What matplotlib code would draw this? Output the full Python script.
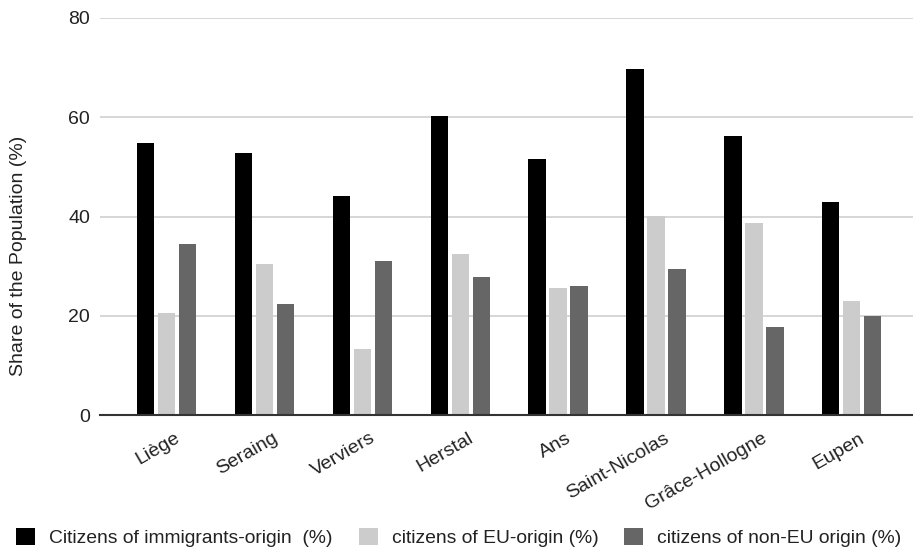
import numpy as np
import matplotlib
matplotlib.use("Agg")
import matplotlib.pyplot as plt
from matplotlib.transforms import ScaledTranslation

plt.rcParams['font.family'] = ['Liberation Sans', 'DejaVu Sans']

# shares of the population by origin, per municipality
cities = ["Liège", "Seraing", "Verviers", "Herstal", "Ans",
          "Saint-Nicolas", "Grâce-Hollogne", "Eupen"]
immigrant_origin = [54.9, 52.7, 44.2, 60.2, 51.6, 69.7, 56.3, 42.9]
eu_origin = [20.6, 30.5, 13.2, 32.4, 25.6, 40.1, 38.7, 22.9]
non_eu_origin = [34.4, 22.3, 31.1, 27.9, 26.0, 29.5, 17.7, 20.0]

series_names = ["Citizens of immigrants-origin  (%)",
                "citizens of EU-origin (%)",
                "citizens of non-EU origin (%)"]
colors = ["#000000", "#cccccc", "#666666"]
yticks = [0, 20, 40, 60, 80]

fig = plt.figure(figsize=(9.13, 5.49), dpi=100)
ax = fig.add_axes([100 / 913, 1 - 415 / 549, 813 / 913, 397 / 549])

x = np.arange(len(cities))
width = 0.179
step = 0.2146
bars = []
for i, (vals, name, c) in enumerate(zip([immigrant_origin, eu_origin, non_eu_origin],
                                        series_names, colors)):
    b = ax.bar(x + (i - 1) * step, vals, width, color=c, label=name, zorder=3)
    bars.append(b)

ax.set_xlim(-0.682, 7.626)
ax.set_ylim(0, 80)
ax.set_yticks(yticks)
ax.grid(axis='y', color='#cccccc', linewidth=1.1, zorder=0)
for side in ['top', 'right', 'left']:
    ax.spines[side].set_visible(False)
ax.spines['bottom'].set_color('#333333')
ax.spines['bottom'].set_linewidth(1.5)
ax.spines['bottom'].set_zorder(4)

ax.tick_params(axis='y', length=0, pad=7.2, labelsize=14, labelcolor='#222222')
ax.tick_params(axis='x', length=0, pad=18.7, labelsize=14, labelcolor='#222222')
ax.set_xticks(x, cities, rotation=30, ha='right', va='baseline',
              rotation_mode='anchor')
shift = ScaledTranslation(0.14, 0, fig.dpi_scale_trans)
for lbl in ax.get_xticklabels():
    lbl.set_transform(lbl.get_transform() + shift)

ax.set_ylabel("Share of the Population (%)", fontsize=14, color='#222222')
ax.yaxis.set_label_coords(-0.090, 0.40)

# legend row along the bottom edge
lfs = 13.85
fs = lfs * 100 / 72
fig.legend(handles=bars, labels=series_names, loc='center left',
           bbox_to_anchor=(16 / 913, 1 - 537.5 / 549), ncol=3, frameon=False,
           fontsize=lfs, handlelength=19 / fs, handleheight=19 / fs,
           handletextpad=14 / fs, columnspacing=26 / fs,
           borderpad=0, borderaxespad=0, labelcolor='#222222')

fig.savefig("out.png", dpi=100)
